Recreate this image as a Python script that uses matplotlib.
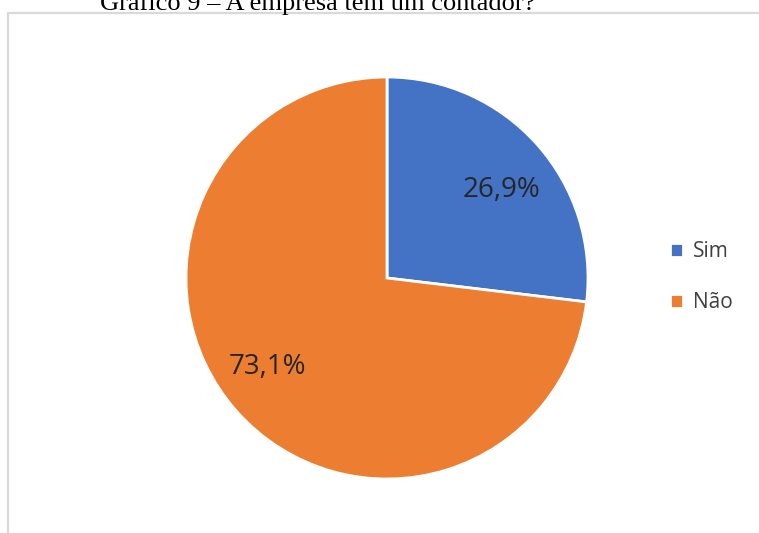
import matplotlib
matplotlib.use("Agg")
import matplotlib.pyplot as plt
from matplotlib.patches import Rectangle

categories = ["Sim", "Não"]
values = [26.9, 73.1]
colors = ["#4472C4", "#ED7D31"]
title = "Gráfico 9 – A empresa tem um contador?"

W, H = 759, 533
fig = plt.figure(figsize=(W / 100, H / 100), dpi=100)
fig.patch.set_facecolor("white")

# Chart area frame (light grey border)
fig.patches.append(Rectangle((8 / W, -0.05), 1.0, (H - 13) / H + 0.05,
                             transform=fig.transFigure, fill=False,
                             edgecolor="#D9D9D9", linewidth=1.6))

# Caption text above the frame
fig.text(318 / W, (H - 10) / H, title, ha="center", va="baseline",
         fontsize=19, family="Liberation Serif", color="black")

cx, cy, r = 387, 278, 201
ax = fig.add_axes([(cx - r) / W, (H - cy - r) / H, 2 * r / W, 2 * r / H])
wedges, _ = ax.pie(values, colors=colors, startangle=90, counterclock=False,
                   radius=1.0, wedgeprops=dict(edgecolor="white", linewidth=2))
ax.set_xlim(-1, 1)
ax.set_ylim(-1, 1)
ax.set_aspect("equal")
ax.axis("off")

label_pos = [(502, 190), (268, 367)]
for v, (lx, ly) in zip(values, label_pos):
    txt = f"{v:.1f}%".replace(".", ",")
    fig.text(lx / W, (H - ly) / H, txt, ha="center", va="center",
             fontsize=20, family="Open Sans", color="#262626")

leg = fig.legend(wedges, categories, loc="center left",
                 bbox_to_anchor=(651 / W, (H - 277) / H),
                 frameon=False, handlelength=0.65, handleheight=0.65,
                 handletextpad=0.45, labelspacing=1.45,
                 prop=dict(family="Open Sans", size=15))
for t in leg.get_texts():
    t.set_color("#404040")

fig.savefig("out.png", dpi=100)
